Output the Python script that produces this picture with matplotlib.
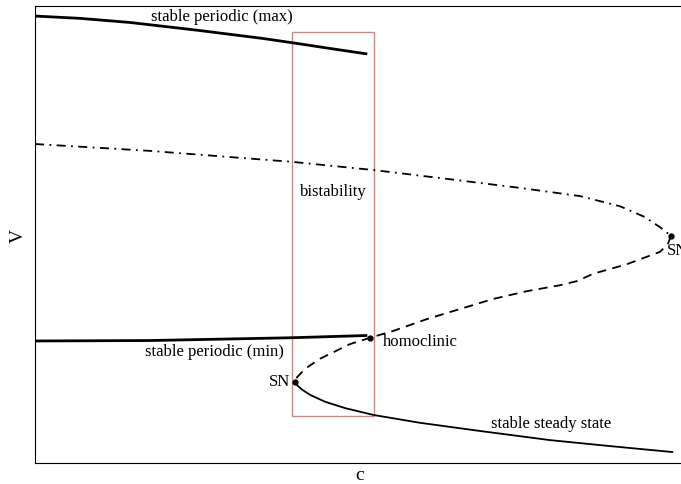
import matplotlib
matplotlib.use("Agg")
import matplotlib.pyplot as plt
from matplotlib.patches import Rectangle

plt.rcParams['font.family'] = ['Liberation Serif', 'DejaVu Serif']

# stable periodic orbit, upper envelope
c_max = [0.000, 0.069, 0.146, 0.250, 0.351, 0.404, 0.455, 0.512]
v_max = [0.978, 0.973, 0.964, 0.947, 0.929, 0.918, 0.907, 0.895]

# stable periodic orbit, lower envelope
c_min = [0.000, 0.177, 0.393, 0.512]
v_min = [0.267, 0.268, 0.274, 0.279]

# unstable periodic orbit (dash-dot)
c_upo = [0.000, 0.177, 0.396, 0.522, 0.639, 0.747, 0.840, 0.901, 0.940, 0.963, 0.980]
v_upo = [0.698, 0.683, 0.659, 0.641, 0.621, 0.602, 0.584, 0.562, 0.538, 0.516, 0.497]

# unstable steady state (dashed), upper SN -> lower SN
c_uss = [0.980, 0.975, 0.963, 0.912, 0.860, 0.835, 0.809, 0.758, 0.706, 0.655,
         0.604, 0.552, 0.516, 0.485, 0.439, 0.416, 0.404, 0.401]
v_uss = [0.497, 0.479, 0.462, 0.435, 0.414, 0.398, 0.389, 0.376, 0.359, 0.337,
         0.315, 0.289, 0.274, 0.260, 0.228, 0.206, 0.188, 0.177]

# stable steady state
c_ss = [0.401, 0.404, 0.412, 0.424, 0.447, 0.478, 0.522, 0.593, 0.686, 0.794, 0.886, 0.982]
v_ss = [0.177, 0.170, 0.160, 0.149, 0.134, 0.120, 0.105, 0.088, 0.070, 0.050, 0.037, 0.024]

# special points
sn_lower = (0.401, 0.177)
sn_upper = (0.980, 0.497)
homoclinic = (0.516, 0.274)

# bistability window
bist_c = (0.396, 0.522)
bist_v = (0.103, 0.943)

fig = plt.figure(figsize=(6.81, 4.85), dpi=100)
ax = fig.add_axes([35 / 681, 21 / 485, 649 / 681, 457 / 485])

ax.plot(c_max, v_max, 'k-', lw=2.0, solid_capstyle='butt')
ax.plot(c_min, v_min, 'k-', lw=2.0, solid_capstyle='butt')
ax.plot(c_upo, v_upo, 'k', lw=1.3, dashes=(5, 3, 1, 3))
ax.plot(c_uss, v_uss, 'k', lw=1.3, dashes=(5, 3.5))
ax.plot(c_ss, v_ss, 'k-', lw=1.3)

for p in (sn_lower, sn_upper, homoclinic):
    ax.plot(*p, 'ko', ms=3.5)

ax.add_patch(Rectangle((bist_c[0], bist_v[0]), bist_c[1] - bist_c[0], bist_v[1] - bist_v[0],
                       fill=False, ec='#c48a8a', lw=1.0))

fs = 12
ax.text(0.288, 0.978, 'stable periodic (max)', fontsize=fs, ha='center', va='center')
ax.text(0.459, 0.595, 'bistability', fontsize=fs, ha='center', va='center')
ax.text(0.277, 0.245, 'stable periodic (min)', fontsize=fs, ha='center', va='center')
ax.text(0.536, 0.267, 'homoclinic', fontsize=fs, ha='left', va='center')
ax.text(0.393, 0.179, 'SN', fontsize=fs, ha='right', va='center')
ax.text(0.974, 0.466, 'SN', fontsize=fs, ha='left', va='center')
ax.text(0.795, 0.088, 'stable steady state', fontsize=fs, ha='center', va='center')

ax.set_xlim(0, 1)
ax.set_ylim(0, 1)
ax.set_xticks([])
ax.set_yticks([])
ax.set_xlabel('c', fontsize=14, labelpad=2)
ax.set_ylabel('V', fontsize=14, labelpad=6)

fig.savefig('out.png', dpi=100)
